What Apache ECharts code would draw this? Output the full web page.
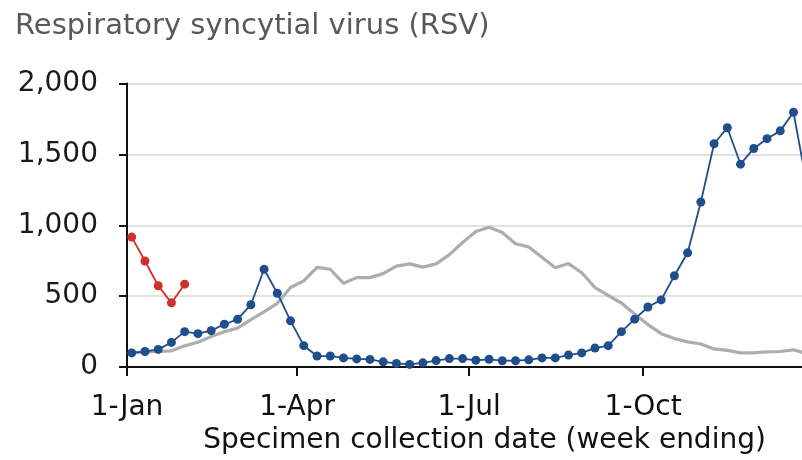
<!DOCTYPE html>
<html>
<head>
<meta charset="utf-8">
<title>RSV</title>
<script src="https://cdn.jsdelivr.net/npm/echarts@6/dist/echarts.min.js"></script>
<style>
  html, body { margin: 0; padding: 0; background: #fff; }
  #chart { width: 802px; height: 460px; }
</style>
</head>
<body>
<div id="chart"></div>
<script>
// weekly counts, one value per week ending (day of year, 1-Jan = 0)
var firstWeekDay = 2.5;
var tickDays = [0, 90, 181, 273];
var tickLabels = ['1-Jan', '1-Apr', '1-Jul', '1-Oct'];

// 5-year average (grey)
var avgValues = [100, 108, 110, 115, 150, 175, 215, 250, 275, 335, 390, 450, 561, 608, 703, 690,
  591, 631, 631, 659, 712, 728, 705, 728, 793, 879, 956, 986, 949, 870, 847, 775, 700, 730, 665,
  561, 505, 452, 375, 300, 236, 201, 178, 163, 128, 118, 100, 101, 108, 110, 122, 95];
// previous year (blue)
var lastYear = [100, 110, 125, 174, 250, 236, 257, 302, 337, 440, 690, 521, 326, 151, 78, 78,
  65, 58, 54, 37, 26, 19, 30, 46, 60, 60, 48, 55, 45, 45, 51, 65, 65, 85, 100, 134, 151, 250,
  338, 424, 474, 644, 806, 1164, 1575, 1688, 1431, 1542, 1611, 1666, 1797, 1290];
// current year (red)
var thisYear = [917, 748, 574, 453, 585];

function toPoints(values) {
  return values.map(function (v, i) { return [firstWeekDay + 7 * i, v]; });
}

var font = 'DejaVu Sans';
var chart = echarts.init(document.getElementById('chart'));

var option = {
  animation: false,
  title: {
    text: 'Respiratory syncytial virus (RSV)',
    left: 10,
    top: 7,
    textStyle: { fontFamily: font, fontSize: 29, fontWeight: 'normal', color: '#595959' }
  },
  // the picture is cut at the right edge, a little before 31-Dec
  grid: { left: 127, right: 0, top: 83.5, bottom: 89.5, containLabel: false },
  xAxis: {
    type: 'value',
    min: 0,
    max: 357,
    name: 'Specimen collection date (week ending)',
    nameLocation: 'middle',
    nameGap: 55,
    nameTextStyle: { fontFamily: font, fontSize: 28, color: '#111', padding: [0, 0, 0, 40] },
    axisLine: { lineStyle: { color: '#111', width: 2 } },
    axisTick: { customValues: tickDays, length: 9, lineStyle: { color: '#111', width: 2 } },
    axisLabel: {
      customValues: tickDays,
      margin: 27,
      fontFamily: font,
      fontSize: 28,
      color: '#111',
      formatter: function (v) { return tickLabels[tickDays.indexOf(v)]; }
    },
    splitLine: { show: false }
  },
  yAxis: {
    type: 'value',
    min: 0,
    max: 2000,
    interval: 500,
    axisLine: { show: true, lineStyle: { color: '#111', width: 2 } },
    axisTick: { show: true, length: 8, lineStyle: { color: '#111', width: 2 } },
    axisLabel: {
      margin: 29,
      padding: [0, 0, 6, 0],
      fontFamily: font,
      fontSize: 28,
      color: '#1a1a1a',
      formatter: function (v) { return v.toLocaleString('en-US'); }
    },
    splitLine: { lineStyle: { color: '#d9d9d9', width: 1.5 } }
  },
  series: [
    {
      name: 'Average',
      type: 'line',
      data: toPoints(avgValues),
      showSymbol: false,
      lineStyle: { color: '#adadad', width: 3.2 },
      z: 2
    },
    {
      name: 'Last year',
      type: 'line',
      data: toPoints(lastYear),
      symbol: 'circle',
      symbolSize: 9,
      itemStyle: { color: '#1f4e8c' },
      lineStyle: { color: '#1f4e8c', width: 1.8 },
      z: 3
    },
    {
      name: 'This year',
      type: 'line',
      data: toPoints(thisYear),
      symbol: 'circle',
      symbolSize: 9,
      itemStyle: { color: '#d0302b' },
      lineStyle: { color: '#d0302b', width: 1.8 },
      z: 4
    }
  ]
};

chart.setOption(option);
</script>
</body>
</html>
